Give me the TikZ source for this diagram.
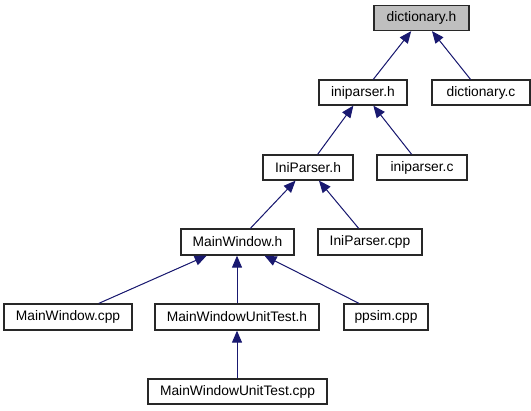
\documentclass[tikz,border=0pt]{standalone}
\usepackage{fontspec}
\setmainfont{Liberation Sans}
\usetikzlibrary{arrows.meta}
\definecolor{edgeblue}{RGB}{25,25,112}
\definecolor{boxgray}{RGB}{191,191,191}
\definecolor{boxborder}{RGB}{40,40,40}
\begin{document}
\begin{tikzpicture}[x=1pt,y=-1pt,
  box/.style={draw=boxborder, line width=1.3pt, fill=white, inner sep=0pt,
    font=\fontsize{13.8}{16}\selectfont, anchor=center},
  edge/.style={draw=edgeblue, line width=1pt,
    -{Triangle[length=12pt,width=10pt]}, fill=edgeblue}]
\useasboundingbox (0,0) rectangle (531,411);
\fill[white] (0,0) rectangle (531,411);
% nodes (centre, width, height in px)
\node[box, fill=boxgray, minimum width=95, minimum height=25] (dh) at (421.5,18) {dictionary.h};
\node[box, minimum width=88, minimum height=25] (iph) at (363,92.5) {iniparser.h};
\node[box, minimum width=98, minimum height=25] (dc) at (481,92.5) {dictionary.c};
\node[box, minimum width=90, minimum height=25] (IPh) at (308,167.5) {IniParser.h};
\node[box, minimum width=90, minimum height=25] (ipc) at (422,167.5) {iniparser.c};
\node[box, minimum width=113, minimum height=26] (mwh) at (237.5,242) {MainWindow.h};
\node[box, minimum width=104, minimum height=26] (IPc) at (370,242) {IniParser.cpp};
\node[box, minimum width=128, minimum height=26] (mwc) at (68,317) {MainWindow.cpp};
\node[box, minimum width=164, minimum height=26] (mwuth) at (237,317) {MainWindowUnitTest.h};
\node[box, minimum width=84, minimum height=26] (pps) at (386,317) {ppsim.cpp};
\node[box, minimum width=179, minimum height=25] (mwutc) at (237.5,391.5) {MainWindowUnitTest.cpp};
% edges (child -> parent)
\draw[edge] (iph) -- (dh);
\draw[edge] (dc) -- (dh);
\draw[edge] (IPh) -- (iph);
\draw[edge] (ipc) -- (iph);
\draw[edge] (mwh) -- (IPh);
\draw[edge] (IPc) -- (IPh);
\draw[edge] (mwc) -- (mwh);
\draw[edge] (mwuth.north) -- (mwuth.north |- mwh.south);
\draw[edge] (pps) -- (mwh);
\draw[edge] (mwutc.north -| mwuth.south) -- (mwuth.south);
\end{tikzpicture}
\end{document}
